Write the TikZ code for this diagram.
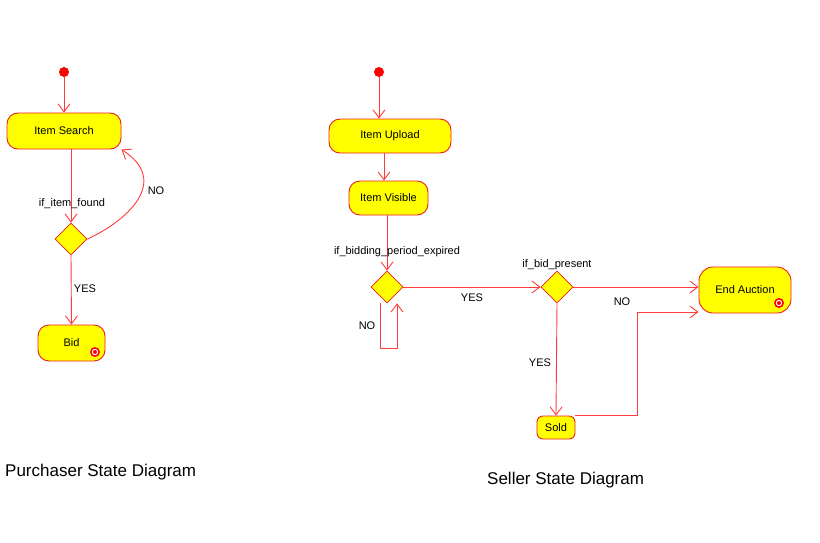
\documentclass[tikz,border=0pt]{standalone}
\usepackage{fontspec}
\setmainfont{Liberation Sans}
\usetikzlibrary{arrows.meta,shapes.geometric,calc}
\definecolor{lnred}{RGB}{255,60,60}
\definecolor{bdred}{RGB}{235,30,30}
\definecolor{stfill}{RGB}{255,255,0}
\tikzset{
  state/.style={draw=bdred,fill=stfill,line width=0.9pt,rounded corners=11pt,inner sep=0pt,font=\fontsize{11}{13}\selectfont},
  decision/.style={diamond,draw=bdred,fill=stfill,line width=0.8pt,inner sep=0pt,minimum width=32pt,minimum height=32pt},
  startdot/.style={circle,fill=red,inner sep=0pt,minimum size=10pt},
  arr/.style={draw=lnred,line width=0.9pt,-{Straight Barb[length=8pt,width=12pt,line width=0.9pt]}},
  lbl/.style={font=\fontsize{11}{13}\selectfont,inner sep=0pt},
  ttl/.style={font=\fontsize{17}{20}\selectfont,inner sep=0pt,anchor=west}
}
\begin{document}
\begin{tikzpicture}[x=1pt,y=-1pt]
\useasboundingbox (0,0) rectangle (820,542);
% Purchaser
\node[startdot] (ps) at (64,72) {};
\node[state,minimum width=114pt,minimum height=36pt] (search) at (64,131) {Item Search};
\node[decision] (d1) at (71,239) {};
\node[state,minimum width=67pt,minimum height=36pt] (bid) at (71.5,343) {Bid};
\draw[arr] (ps) -- (search);
\draw[arr] (search.south -| d1.north) -- (d1.north);
\node[lbl] (l1) at (72,204) {if\_item\_found};
\draw[arr] (d1.east) .. controls (125,222) and (172,182) .. (search.south east);
\node[lbl] (l2) at (156,191) {NO};
\draw[arr] (d1.south) -- (bid.north);
\node[lbl] (l3) at (85,289) {YES};
\node[ttl] (t1) at (5,472) {Purchaser State Diagram};
% Seller
\node[startdot] (ss) at (379,72) {};
\node[state,minimum width=122pt,minimum height=34pt] (upload) at (390,136) {Item Upload};
\node[state,minimum width=79pt,minimum height=34pt] (visible) at (388.5,198) {Item Visible};
\node[decision] (d2) at (387,287) {};
\node[decision] (d3) at (557,287) {};
\node[state,minimum width=92pt,minimum height=46pt,rounded corners=14pt] (endauc) at (745,290) {End Auction};
\node[state,minimum width=38pt,minimum height=23pt,rounded corners=6pt] (sold) at (556,427.5) {Sold};
\draw[arr] (ss) -- (ss |- upload.north);
\draw[arr] ([xshift=-4.5pt]visible.north |- upload.south) -- ([xshift=-4.5pt]visible.north);
\draw[arr] (visible.south -| d2.north) -- (d2.north);
\node[lbl] (l4) at (397,252) {if\_bidding\_period\_expired};
\draw[arr] ([xshift=-7pt]d2.south) -- ++(0,45) -| ([xshift=10pt]d2.south);
\node[lbl] (l5) at (367,326) {NO};
\draw[arr] (d2.east) -- (d3.west);
\node[lbl] (l6) at (472,298) {YES};
\node[lbl] (l7) at (557,265) {if\_bid\_present};
\draw[arr] (d3.east) -- (d3.east -| endauc.west);
\node[lbl] (l8) at (622,302) {NO};
\draw[arr] (d3.south) -- (sold.north);
\node[lbl] (l9) at (540,363) {YES};
\draw[arr] (sold.north east) -- ++(62,0) |- ([yshift=-22pt]endauc.west);
\node[ttl] (t2) at (487,480) {Seller State Diagram};
% final markers
\foreach \p in {(95,352),(779,303)}{
  \fill[red] \p circle (5pt);
  \fill[white] \p circle (3.2pt);
  \fill[red] \p circle (2pt);
}
\end{tikzpicture}
\end{document}
